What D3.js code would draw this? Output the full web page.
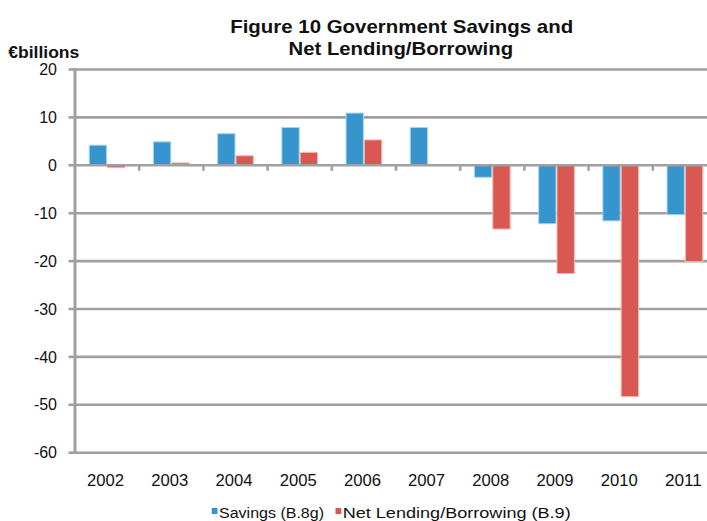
<!DOCTYPE html>
<html>
<head>
<meta charset="utf-8">
<script src="https://cdn.jsdelivr.net/npm/d3@7"></script>
<style>
  html, body { margin: 0; padding: 0; background: #fff; overflow: hidden; }
  svg { display: block; font-family: "Liberation Sans", Arial, sans-serif; }
</style>
</head>
<body>
<svg id="chart" width="707" height="521"></svg>
<script>
const years = ["2002","2003","2004","2005","2006","2007","2008","2009","2010","2011"];
const savings = [4.2, 4.9, 6.6, 7.9, 10.9, 7.9, -2.5, -12.2, -11.6, -10.3];
const netLending = [-0.5, 0.5, 2.0, 2.7, 5.3, 0.0, -13.3, -22.6, -48.3, -20.1];
const yTicks = [20, 10, 0, -10, -20, -30, -40, -50, -60];
const seriesNames = ["Savings (B.8g)", "Net Lending/Borrowing (B.9)"];
const colors = ["#3795CE", "#D95852"];
const edgeColors = ["#A8D4EF", "#F5B9B6"];
const titleLines = ["Figure 10 Government Savings and", "Net Lending/Borrowing"];
const yUnit = "€billions";

const svg = d3.select("#chart");
const plotLeft = 75, plotRight = 717, plotTop = 69.5, plotBottom = 452.7;

const x = d3.scaleBand().domain(years).range([plotLeft, plotRight]).paddingInner(0).paddingOuter(0);
const y = d3.scaleLinear().domain([-60, 20]).range([plotBottom, plotTop]);
const step = x.bandwidth();
const bw = step / 3.5;

// gridlines
svg.append("g").selectAll("line").data(yTicks.filter(d => d !== 0)).join("line")
  .attr("x1", plotLeft).attr("x2", 707)
  .attr("y1", d => y(d)).attr("y2", d => y(d))
  .attr("stroke", "#A0A0A0").attr("stroke-width", 2.6);

// bars
const series = [savings, netLending];
series.forEach((vals, si) => {
  svg.append("g").selectAll("rect").data(vals.map((v, i) => ({v, yr: years[i]}))).join("rect")
    .attr("x", d => x(d.yr) + step / 2 - bw + si * bw + 0.5)
    .attr("width", bw - 1)
    .attr("y", d => Math.min(y(d.v), y(0)))
    .attr("height", d => Math.abs(y(d.v) - y(0)))
    .attr("fill", colors[si])
    .attr("stroke", edgeColors[si])
    .attr("stroke-width", d => d.v === 0 ? 0 : 1);
});

// zero axis line
svg.append("line").attr("x1", plotLeft).attr("x2", 707).attr("y1", y(0)).attr("y2", y(0))
  .attr("stroke", "#A0A0A0").attr("stroke-width", 2.6);
// category tick marks
svg.append("g").selectAll("line").data(years.slice(1)).join("line")
  .attr("x1", d => x(d)).attr("x2", d => x(d))
  .attr("y1", y(0)).attr("y2", y(0) + 5.5)
  .attr("stroke", "#A0A0A0").attr("stroke-width", 2.6);

// y axis
svg.append("line").attr("x1", plotLeft).attr("x2", plotLeft).attr("y1", plotTop - 1.3).attr("y2", plotBottom + 1.3)
  .attr("stroke", "#A0A0A0").attr("stroke-width", 3);
svg.append("g").selectAll("line").data(yTicks).join("line")
  .attr("x1", plotLeft - 6.5).attr("x2", plotLeft)
  .attr("y1", d => y(d)).attr("y2", d => y(d))
  .attr("stroke", "#A0A0A0").attr("stroke-width", 2.6);
svg.append("g").selectAll("text").data(yTicks).join("text")
  .attr("x", 57).attr("y", d => y(d) + 5.6)
  .attr("text-anchor", "end").attr("font-size", 16).attr("fill", "#111")
  .text(d => d);

// x labels
svg.append("g").selectAll("text").data(years).join("text")
  .attr("x", d => x(d) + step / 2 - 1.5).attr("y", 486)
  .attr("text-anchor", "middle").attr("font-size", 16).attr("fill", "#111")
  .attr("textLength", 37).attr("lengthAdjust", "spacingAndGlyphs")
  .text(d => d);

// title
svg.append("text").attr("x", 401.7).attr("y", 33.3).attr("text-anchor", "middle")
  .attr("font-size", 18.5).attr("font-weight", "bold").attr("fill", "#111")
  .attr("textLength", 343).attr("lengthAdjust", "spacingAndGlyphs").text(titleLines[0]);
svg.append("text").attr("x", 400.8).attr("y", 55).attr("text-anchor", "middle")
  .attr("font-size", 18.5).attr("font-weight", "bold").attr("fill", "#111")
  .attr("textLength", 224.5).attr("lengthAdjust", "spacingAndGlyphs").text(titleLines[1]);

// unit label
svg.append("text").attr("x", 8.3).attr("y", 58.3)
  .attr("font-size", 16.5).attr("font-weight", "bold").attr("fill", "#111")
  .attr("textLength", 71).attr("lengthAdjust", "spacingAndGlyphs").text(yUnit);

// legend
const legendItems = [
  {sx: 211.7, tx: 219, tw: 105},
  {sx: 335.5, tx: 342.7, tw: 228}
];
legendItems.forEach((it, i) => {
  svg.append("rect").attr("x", it.sx).attr("y", 508).attr("width", 5.8).attr("height", 6)
    .attr("fill", colors[i]);
  svg.append("text").attr("x", it.tx).attr("y", 517.8).attr("font-size", 15.5).attr("fill", "#111")
    .attr("textLength", it.tw).attr("lengthAdjust", "spacingAndGlyphs").text(seriesNames[i]);
});
</script>
</body>
</html>
